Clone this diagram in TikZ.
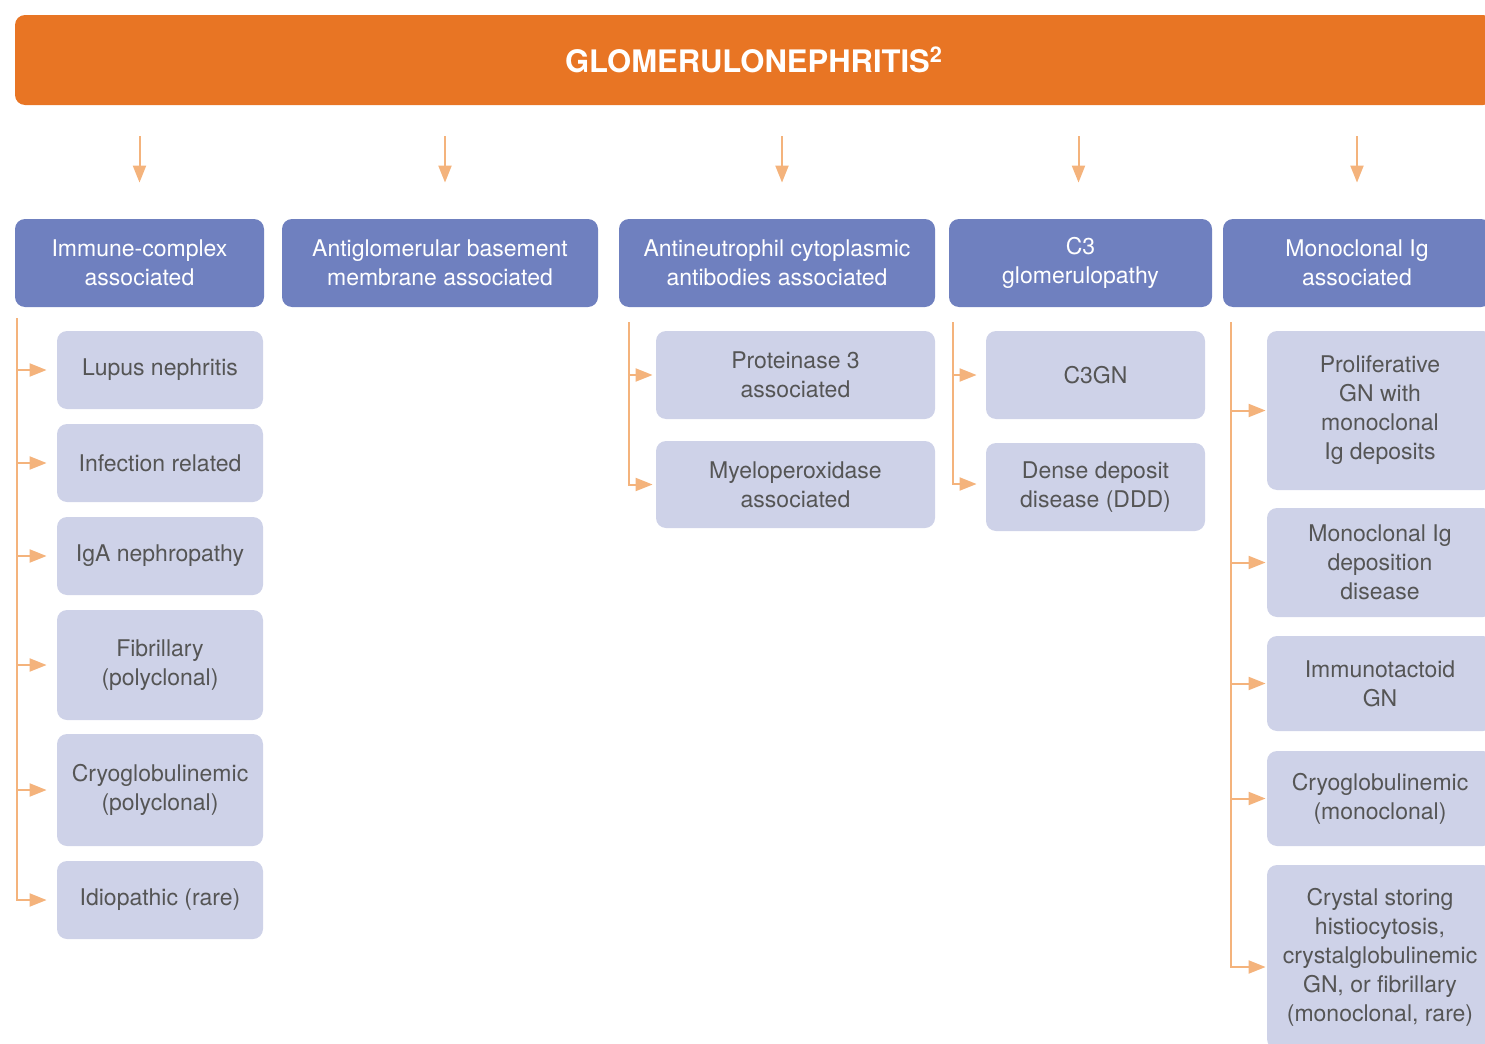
\documentclass[tikz,border=0pt]{standalone}
\usepackage{fontspec}
\setmainfont{TeX Gyre Heros}
\usetikzlibrary{arrows.meta}
\definecolor{gnorange}{HTML}{E87524}
\definecolor{gnlink}{HTML}{F4B37C}
\definecolor{gnblue}{HTML}{6F80BF}
\definecolor{gnpale}{HTML}{CED2E8}
\definecolor{gntext}{HTML}{555555}
\begin{document}
\begin{tikzpicture}[x=0.5pt,y=-0.5pt,
    titlebox/.style={fill=gnorange,rounded corners=5pt,minimum width=739pt,minimum height=45pt,
      text=white,font=\fontsize{15.5pt}{18pt}\selectfont\bfseries},
    catbox/.style={fill=gnblue,rounded corners=5pt,minimum height=44pt,align=center,
      text=white,font=\fontsize{11.5pt}{14.5pt}\selectfont},
    subbox/.style={fill=gnpale,rounded corners=5pt,align=center,
      text=gntext,font=\fontsize{11.5pt}{14.5pt}\selectfont},
    link/.style={draw=gnlink,line width=1pt},
    arr/.style={link,-{Triangle[length=8.5pt,width=6.5pt]}}]
    \useasboundingbox (0,0) rectangle (1485,1044);
    % Title bar
    \node[titlebox] (title) at (754,60) {GLOMERULONEPHRITIS\textsuperscript{2}};
    % Categories
    \node[catbox,minimum width=124.5pt] (immune) at (139.5,263) {Immune-complex\\associated};
    \node[catbox,minimum width=158pt] (antigbm) at (440,263) {Antiglomerular basement\\membrane associated};
    \node[catbox,minimum width=158pt] (anca) at (777,263) {Antineutrophil cytoplasmic\\antibodies associated};
    \node[catbox,minimum width=131.5pt] (cthree) at (1080.5,263) {C3\\glomerulopathy};
    \node[catbox,minimum width=134pt] (monoig) at (1357,263) {Monoclonal Ig\\associated};
    % Arrows from the title
    \foreach \n/\dx in {immune/0,antigbm/2.5,anca/2.5,cthree/-1,monoig/0}
      \draw[arr] ([xshift=\dx pt,yshift=-15.5pt]title.south -| \n.north) -- ([xshift=\dx pt,yshift=18pt]\n.north);
    % Immune-complex column
    \node[subbox,minimum width=103pt,minimum height=39pt] (lupus) at (160,370) {Lupus nephritis};
    \node[subbox,minimum width=103pt,minimum height=39pt] (infect) at (160,463) {Infection related};
    \node[subbox,minimum width=103pt,minimum height=39pt] (iga) at (160,556) {IgA nephropathy};
    \node[subbox,minimum width=103pt,minimum height=55pt] (fibril) at (160,665) {Fibrillary\\(polyclonal)};
    \node[subbox,minimum width=103pt,minimum height=56pt] (cryopoly) at (160,790) {Cryoglobulinemic\\(polyclonal)};
    \node[subbox,minimum width=103pt,minimum height=39pt] (idio) at (160,900) {Idiopathic (rare)};
    % ANCA column
    \node[subbox,minimum width=139.5pt,minimum height=44pt] (pr3) at (795.5,375) {Proteinase 3\\associated};
    \node[subbox,minimum width=139.5pt,minimum height=43.5pt] (mpo) at (795.5,484.5) {Myeloperoxidase\\associated};
    % C3 column
    \node[subbox,minimum width=109.5pt,minimum height=44pt] (c3gn) at (1095.5,375) {C3GN};
    \node[subbox,minimum width=109.5pt,minimum height=44pt] (ddd) at (1095.5,487) {Dense deposit\\disease (DDD)};
    % Monoclonal Ig column
    \node[subbox,minimum width=113pt,minimum height=79.5pt] (prolif) at (1380,410.5) {Proliferative\\GN with\\monoclonal\\Ig deposits};
    \node[subbox,minimum width=113pt,minimum height=54.5pt] (midd) at (1380,562.5) {Monoclonal Ig\\deposition\\disease};
    \node[subbox,minimum width=113pt,minimum height=47.5pt] (immuno) at (1380,683.5) {Immunotactoid\\GN};
    \node[subbox,minimum width=113pt,minimum height=47.5pt] (cryomono) at (1380,798.5) {Cryoglobulinemic\\(monoclonal)};
    \node[subbox,minimum width=113pt,minimum height=92pt] (crystal) at (1380,957) {Crystal storing\\histiocytosis,\\crystalglobulinemic\\GN, or fibrillary\\(monoclonal, rare)};
    % Trunk lines
    \coordinate (t1) at (17,318);
    \coordinate (t3) at (629,322);
    \coordinate (t4) at (953,322);
    \coordinate (t5) at (1231,322);
    \draw[arr,shorten >=5pt] (t1) |- (idio.west);
    \foreach \n in {lupus,infect,iga,fibril,cryopoly}
      \draw[arr,shorten >=5pt] (t1 |- \n.west) -- (\n.west);
    \draw[arr,shorten >=1.5pt] (t3) |- (mpo.west);
    \draw[arr,shorten >=1.5pt] (t3 |- pr3.west) -- (pr3.west);
    \draw[arr,shorten >=4.5pt] (t4) |- ([yshift=1.5pt]ddd.west);
    \draw[arr,shorten >=4.5pt] (t4 |- c3gn.west) -- (c3gn.west);
    \draw[arr,shorten >=0.5pt] (t5) |- ([yshift=-5pt]crystal.west);
    \foreach \n in {prolif,midd,immuno,cryomono}
      \draw[arr,shorten >=0.5pt] (t5 |- \n.west) -- (\n.west);
\end{tikzpicture}
\end{document}
